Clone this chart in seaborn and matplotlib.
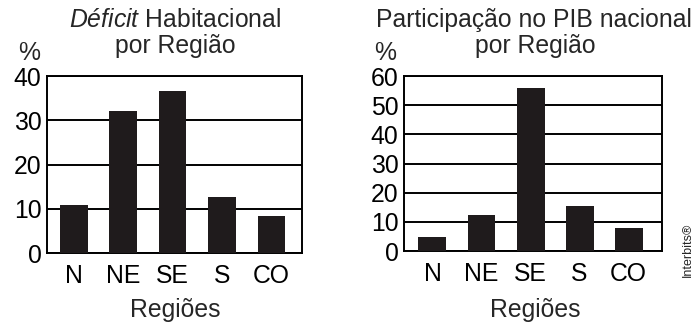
import matplotlib
matplotlib.use('Agg')
import matplotlib.pyplot as plt
import seaborn as sns
import pandas as pd

# Data
regioes = ['N', 'NE', 'SE', 'S', 'CO']
deficit = [10.8, 32.1, 36.6, 12.7, 8.4]
pib = [4.9, 12.3, 55.9, 15.6, 7.9]

sns.set_style('white')
plt.rcParams['font.family'] = ['Liberation Sans', 'DejaVu Sans']
plt.rcParams['mathtext.fontset'] = 'custom'
plt.rcParams['mathtext.rm'] = 'Liberation Sans'
plt.rcParams['mathtext.it'] = 'Liberation Sans:italic'

bar_color = '#1f1b1c'
fs = 17.8

fig = plt.figure(figsize=(6.95, 3.23), dpi=100)
ax1 = fig.add_axes([0.0676, 0.2167, 0.367, 0.548])
ax2 = fig.add_axes([0.5813, 0.2229, 0.3712, 0.5418])

df1 = pd.DataFrame({'Regiao': regioes, 'valor': deficit})
df2 = pd.DataFrame({'Regiao': regioes, 'valor': pib})

sns.barplot(data=df1, x='Regiao', y='valor', ax=ax1, color=bar_color,
            saturation=1, width=0.56, linewidth=0, zorder=3)
sns.barplot(data=df2, x='Regiao', y='valor', ax=ax2, color=bar_color,
            saturation=1, width=0.57, linewidth=0, zorder=3)

for ax, ymax, xlim in [(ax1, 40, (-0.54, 4.62)), (ax2, 60, (-0.58, 4.68))]:
    ax.set_ylim(0, ymax)
    ax.set_xlim(*xlim)
    ax.set_yticks(range(0, ymax + 1, 10))
    ax.set_xlabel('')
    ax.set_ylabel('')
    ax.yaxis.grid(True, color='black', linewidth=1.4, zorder=1)
    ax.set_axisbelow(True)
    for sp in ax.spines.values():
        sp.set_visible(True)
        sp.set_color('black')
        sp.set_linewidth(1.4)
    ax.tick_params(axis='both', length=0, labelsize=fs, colors='black')
    ax.tick_params(axis='y', pad=4)
    ax.tick_params(axis='x', pad=8)

# Titles and labels
fig.text(0.252, 0.916, r'$\it{Déficit}$ Habitacional', ha='center', va='baseline', fontsize=fs)
fig.text(0.252, 0.836, 'por Região', ha='center', va='baseline', fontsize=fs)
fig.text(0.042, 0.814, '%', ha='center', va='baseline', fontsize=fs)
fig.text(0.252, 0.018, 'Regiões', ha='center', va='baseline', fontsize=fs)

fig.text(0.768, 0.916, 'Participação no PIB nacional', ha='center', va='baseline', fontsize=fs)
fig.text(0.77, 0.836, 'por Região', ha='center', va='baseline', fontsize=fs)
fig.text(0.554, 0.814, '%', ha='center', va='baseline', fontsize=fs)
fig.text(0.77, 0.018, 'Regiões', ha='center', va='baseline', fontsize=fs)

fig.text(0.99, 0.226, 'Interbits®', rotation=90, ha='center', va='center', fontsize=9)

fig.savefig('out.png', dpi=100)
